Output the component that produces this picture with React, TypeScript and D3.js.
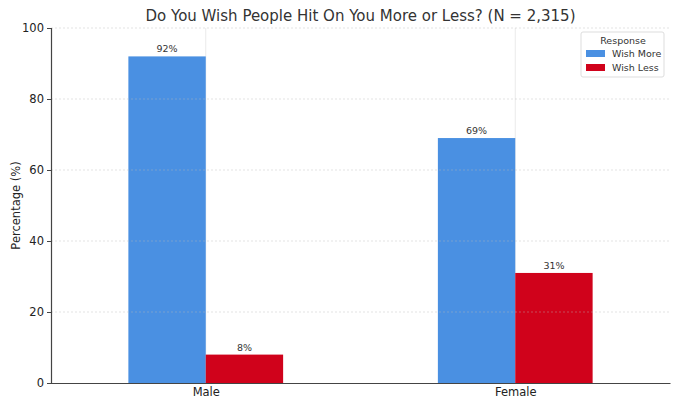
import React, { useEffect, useRef } from 'react'
import * as d3 from 'd3'

const categories = ['Male', 'Female']
const seriesNames = ['Wish More', 'Wish Less']
const wishMore = [92, 69]
const wishLess = [8, 31]
const yTicks = [0, 20, 40, 60, 80, 100]
const colors = ['#4a90e2', '#d0021b']

const W = 680
const H = 408
const margin = { top: 28, right: 10, bottom: 25, left: 51 }
const font = 'DejaVu Sans, sans-serif'

const App = () => {
	const ref = useRef<SVGSVGElement>(null)

	useEffect(() => {
		const svg = d3.select(ref.current)
		svg.selectAll('*').remove()

		const innerW = W - margin.left - margin.right
		const innerH = H - margin.top - margin.bottom
		const values = [wishMore, wishLess]

		// pandas-like layout: categories at 0..n-1, range -0.5..n-0.5
		const x = d3.scaleLinear().domain([-0.5, categories.length - 0.5]).range([0, innerW])
		const y = d3.scaleLinear().domain([0, 100]).range([innerH, 0])
		const barW = 0.25

		const g = svg.append('g').attr('transform', `translate(${margin.left},${margin.top})`)

		// vertical grid at category centers
		g.selectAll('.vgrid')
			.data(categories)
			.join('line')
			.attr('x1', (_, i) => x(i))
			.attr('x2', (_, i) => x(i))
			.attr('y1', 0)
			.attr('y2', innerH)
			.attr('stroke', '#e4e4e4')
			.attr('stroke-width', 0.8)

		values.forEach((vals, s) => {
			g.selectAll(`.bar${s}`)
				.data(vals)
				.join('rect')
				.attr('x', (_, i) => x(i + (s - 1) * barW))
				.attr('y', d => y(d))
				.attr('width', x(barW) - x(0))
				.attr('height', d => innerH - y(d))
				.attr('fill', colors[s])

			g.selectAll(`.lab${s}`)
				.data(vals)
				.join('text')
				.attr('x', (_, i) => x(i + (s - 0.5) * barW))
				.attr('y', d => y(d) - 4)
				.attr('text-anchor', 'middle')
				.attr('font-size', 9.5)
				.attr('fill', '#333')
				.attr('font-family', font)
				.text(d => `${d}%`)
		})

		// horizontal dashed grid drawn over bars
		g.selectAll('.hgrid')
			.data(yTicks.slice(1))
			.join('line')
			.attr('x1', 0)
			.attr('x2', innerW)
			.attr('y1', d => y(d))
			.attr('y2', d => y(d))
			.attr('stroke', '#bbb')
			.attr('stroke-opacity', 0.5)
			.attr('stroke-dasharray', '2,2')
			.attr('stroke-width', 0.8)

		const yAxis = g.append('g').call(d3.axisLeft(y).tickValues(yTicks).tickSize(4).tickPadding(3))
		yAxis.select('.domain').attr('stroke', '#444').attr('stroke-width', 1.2)
		yAxis.selectAll('.tick line').attr('stroke', '#444')
		yAxis.selectAll('.tick text').attr('font-size', 11.5).attr('font-family', font).attr('fill', '#222')

		const xAxis = g
			.append('g')
			.attr('transform', `translate(0,${innerH})`)
			.call(
				d3
					.axisBottom(x)
					.tickValues(categories.map((_, i) => i))
					.tickFormat((_, i) => categories[i])
					.tickSize(0)
					.tickPadding(5)
					.tickSizeOuter(0)
			)
		xAxis.select('.domain').attr('stroke', '#444').attr('stroke-width', 1.2)
		xAxis.selectAll('.tick text').attr('font-size', 11.5).attr('font-family', font).attr('fill', '#222')

		svg.append('text')
			.attr('x', 16)
			.attr('y', margin.top + innerH / 2)
			.attr('transform', `rotate(-90,16,${margin.top + innerH / 2})`)
			.attr('text-anchor', 'middle')
			.attr('dominant-baseline', 'middle')
			.attr('font-size', 11.5)
			.attr('font-family', font)
			.attr('fill', '#222')
			.text('Percentage (%)')

		svg.append('text')
			.attr('x', margin.left + innerW / 2)
			.attr('y', 21)
			.attr('text-anchor', 'middle')
			.attr('font-size', 15)
			.attr('font-family', font)
			.attr('fill', '#333')
			.text('Do You Wish People Hit On You More or Less? (N = 2,315)')

		// legend
		const lg = svg.append('g').attr('transform', 'translate(581,32)')
		lg.append('rect')
			.attr('width', 83)
			.attr('height', 45)
			.attr('rx', 2)
			.attr('fill', '#fff')
			.attr('fill-opacity', 0.85)
			.attr('stroke', '#ddd')
		lg.append('text')
			.attr('x', 42)
			.attr('y', 12)
			.attr('text-anchor', 'middle')
			.attr('font-size', 9.5)
			.attr('font-family', font)
			.attr('fill', '#333')
			.text('Response')
		seriesNames.forEach((name, i) => {
			lg.append('rect')
				.attr('x', 5)
				.attr('y', 18 + i * 14)
				.attr('width', 19)
				.attr('height', 7)
				.attr('fill', colors[i])
			lg.append('text')
				.attr('x', 31)
				.attr('y', 25 + i * 14)
				.attr('font-size', 9.5)
				.attr('font-family', font)
				.attr('fill', '#333')
				.text(name)
		})
	}, [])

	return <svg ref={ref} width={W} height={H} style={{ display: 'block', margin: -8 }} />
}

export default App
